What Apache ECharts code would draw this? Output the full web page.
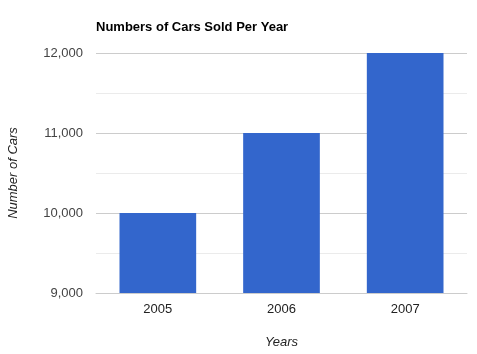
<!DOCTYPE html>
<html>
<head>
<meta charset="utf-8">
<script src="https://cdn.jsdelivr.net/npm/echarts@6/dist/echarts.min.js"></script>
<style>
  html, body { margin: 0; padding: 0; background: #fff; }
  #chart { width: 477px; height: 354px; }
</style>
</head>
<body>
<div id="chart"></div>
<script>
var years = ['2005', '2006', '2007'];
var carsSold = [10000, 11000, 12000];

var chart = echarts.init(document.getElementById('chart'));
var font = 'Liberation Sans, Arial, sans-serif';

chart.setOption({
  animation: false,
  title: {
    text: 'Numbers of Cars Sold Per Year',
    left: 91,
    top: 16,
    textStyle: { fontFamily: font, fontSize: 13, fontWeight: 'bold', color: '#000' }
  },
  grid: { left: 96, right: 10, top: 53, bottom: 61, outerBoundsMode: 'none' },
  xAxis: {
    type: 'category',
    data: years,
    name: 'Years',
    nameLocation: 'middle',
    nameGap: 43,
    nameTextStyle: { fontFamily: font, fontSize: 13, fontStyle: 'italic', color: '#222' },
    axisLine: { lineStyle: { color: '#ccc' } },
    axisTick: { show: false },
    axisLabel: { fontFamily: font, fontSize: 13, color: '#222', margin: 10 }
  },
  yAxis: {
    type: 'value',
    min: 9000,
    max: 12000,
    interval: 1000,
    name: 'Number of Cars',
    nameLocation: 'middle',
    nameGap: 76,
    nameTextStyle: { fontFamily: font, fontSize: 13, fontStyle: 'italic', color: '#222' },
    axisLine: { show: false },
    axisTick: { show: false },
    axisLabel: {
      fontFamily: font, fontSize: 13, color: '#444', margin: 13,
      formatter: function (v) { return v.toLocaleString('en-US'); }
    },
    splitLine: { lineStyle: { color: '#ccc' } },
    minorTick: { show: false, splitNumber: 2 },
    minorSplitLine: { show: true, lineStyle: { color: '#ebebeb' } }
  },
  series: [{
    type: 'bar',
    data: carsSold,
    barWidth: '62%',
    itemStyle: { color: '#3366cc' }
  }]
});
</script>
</body>
</html>
